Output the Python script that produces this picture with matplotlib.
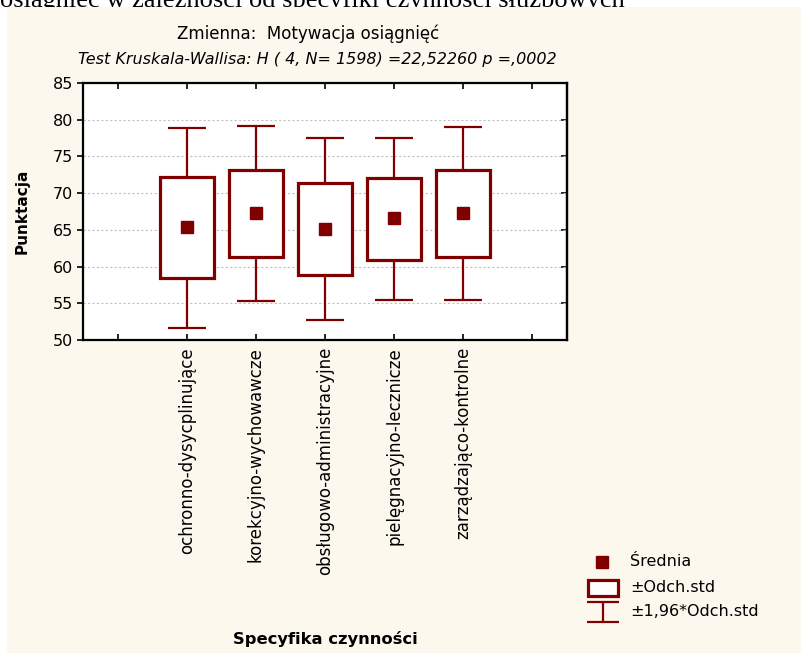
import matplotlib.pyplot as plt
from matplotlib.patches import Rectangle

categories = [
    "ochronno-dysycplinujące",
    "korekcyjno-wychowawcze",
    "obsługowo-administracyjne",
    "pielęgnacyjno-lecznicze",
    "zarządzająco-kontrolne",
]
means = [65.35, 67.35, 65.15, 66.55, 67.35]
box_low = [58.4, 61.25, 58.9, 60.95, 61.35]
box_high = [72.15, 73.2, 71.35, 72.05, 73.15]
whisk_low = [51.7, 55.3, 52.7, 55.45, 55.5]
whisk_high = [78.85, 79.2, 77.5, 77.5, 78.95]
y_ticks = [50, 55, 60, 65, 70, 75, 80, 85]

DARK_RED = "#800000"
CREAM = "#fdf8ee"
W, H = 801, 653

plt.rcParams["font.family"] = ["DejaVu Sans"]

fig = plt.figure(figsize=(W / 100, H / 100), dpi=100)
fig.patch.set_facecolor("white")

# page background / legend layer, in pixel coordinates
bg = fig.add_axes([0, 0, 1, 1], zorder=-1)
bg.set_xlim(0, W)
bg.set_ylim(H, 0)
bg.axis("off")
bg.add_patch(Rectangle((7, 7), W, H, facecolor=CREAM, edgecolor="none", zorder=1))
# caption of the document page, cut by the top edge as in the screenshot
bg.text(0, 6.5, "osiągnięć w zależności od specyfiki czynności służbowych",
        family="Liberation Serif", fontsize=19, va="baseline", zorder=0.5)

# main plot
ax = fig.add_axes([83 / W, 1 - 340 / H, 484 / W, 257 / H])
positions = list(range(1, len(categories) + 1))
box_w = 0.78
cap_w = 0.55
for x, lo, hi, wl, wh in zip(positions, box_low, box_high, whisk_low, whisk_high):
    ax.add_patch(Rectangle((x - box_w / 2, lo), box_w, hi - lo, facecolor="white",
                           edgecolor=DARK_RED, lw=2.3, zorder=3))
    ax.vlines(x, hi, wh, color=DARK_RED, lw=1.6, zorder=2)
    ax.vlines(x, wl, lo, color=DARK_RED, lw=1.6, zorder=2)
    ax.hlines([wl, wh], x - cap_w / 2, x + cap_w / 2, color=DARK_RED, lw=1.6, zorder=2)
ax.plot(positions, means, "s", color=DARK_RED, ms=8, zorder=4)

ax.set_xlim(-0.5, 6.5)
ax.set_ylim(50, 85)
ax.set_xticks(range(7))
ax.set_xticklabels([""] + categories + [""], rotation=90, ha="center", va="top")
ax.set_yticks(y_ticks)
ax.tick_params(axis="x", direction="in", top=True, length=4, width=1.2, pad=5, labelsize=12)
ax.tick_params(axis="y", direction="out", length=4, width=1.2, pad=3, labelsize=11.5)
right = ax.secondary_yaxis("right")
right.set_yticks(y_ticks)
right.tick_params(direction="in", length=4, width=1.2, labelright=False)
right.spines["right"].set_linewidth(1.6)
for s in ax.spines.values():
    s.set_linewidth(1.6)
ax.yaxis.grid(True, linestyle=(0, (2, 2)), color="#c0c0c0", lw=0.8)
ax.set_axisbelow(True)

ax.set_ylabel("Punktacja", fontweight="bold", fontsize=11)
ax.yaxis.set_label_coords(-0.11, 0.5)
ax.set_xlabel("Specyfika czynności", fontweight="bold", fontsize=11.8)
ax.xaxis.set_label_coords(0.5, -(639 - 340) / 257)
ax.xaxis.label.set_va("center")

fig.text(308 / W, 1 - 39 / H, "Zmienna:  Motywacja osiągnięć",
         ha="center", va="baseline", fontsize=12)
fig.text(317 / W, 1 - 64 / H, "Test Kruskala-Wallisa: H ( 4, N= 1598) =22,52260 p =,0002",
         ha="center", va="baseline", fontsize=11.5, style="italic")

# legend
bg.plot(602, 562, "s", color=DARK_RED, ms=8, zorder=3)
bg.add_patch(Rectangle((588, 580), 30, 16, facecolor="white", edgecolor=DARK_RED, lw=2.3, zorder=3))
bg.hlines([602, 622], 587, 619, color=DARK_RED, lw=1.6, zorder=3)
bg.vlines(603, 602, 622, color=DARK_RED, lw=1.6, zorder=3)
for yy, txt in zip([562, 588, 612], ["Średnia", "±Odch.std", "±1,96*Odch.std"]):
    bg.text(630, yy, txt, va="center", fontsize=11.5, zorder=3)

fig.savefig("out.png", dpi=100)
